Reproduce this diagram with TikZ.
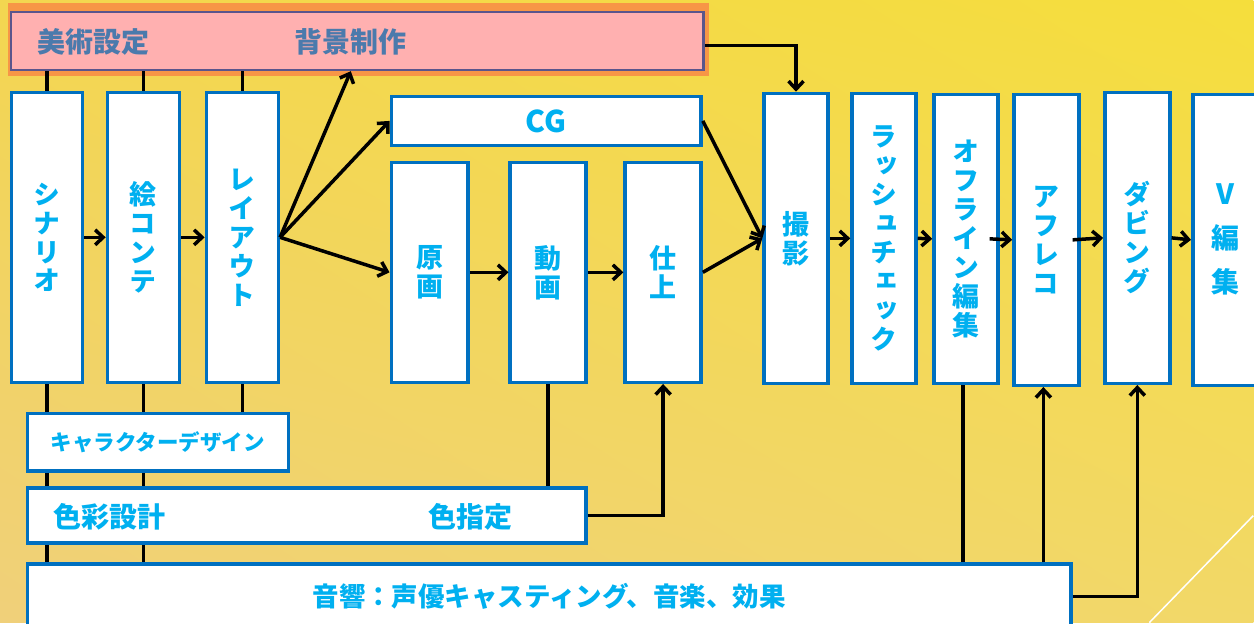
\documentclass[tikz,border=0pt]{standalone}
\usepackage{fontspec}
\setmainfont{Noto Sans CJK JP}
\newfontfamily\tate{Noto Sans CJK JP}[RawFeature=+vert]
\usepackage{tikz}
\usetikzlibrary{arrows.meta,shadings}

\definecolor{boxblue}{RGB}{0,112,192}
\definecolor{txtblue}{RGB}{0,176,240}
\definecolor{pinkfill}{RGB}{255,176,176}
\definecolor{pinkline}{RGB}{90,85,140}
\definecolor{pinktxt}{RGB}{75,122,172}
\definecolor{glow}{RGB}{247,150,70}
\definecolor{bgtl}{RGB}{243,214,80}
\definecolor{bgtr}{RGB}{245,222,60}
\definecolor{bgbl}{RGB}{240,208,122}
\definecolor{bgbr}{RGB}{242,216,104}

\begin{document}
\begin{tikzpicture}[x=1pt, y=-1pt,
  proc/.style={shape=rectangle, draw=boxblue, line width=3.5pt, fill=white, text=txtblue,
    inner sep=0pt, align=center, font=\tate\bfseries\fontsize{27}{29}\selectfont},
  wide/.style={proc, font=\bfseries\fontsize{28}{30}\selectfont},
  pinklabel/.style={text=pinktxt, font=\bfseries\fontsize{28}{30}\selectfont},
  bluelabel/.style={text=txtblue, font=\bfseries\fontsize{28}{30}\selectfont},
  flow/.style={line width=3.5pt, -{Straight Barb[length=8pt,width=15pt]}},
  tie/.style={line width=3.5pt}]

\shade[upper left=bgtl, upper right=bgtr, lower left=bgbl, lower right=bgbr] (0,0) rectangle (1254,623);
\draw[white, line width=1.5pt] (1150,623) -- (1254,516);
\useasboundingbox (0,0) rectangle (1254,623);

\fill[glow] (8,3) rectangle (709,76);
\node[shape=rectangle, draw=pinkline, line width=2.5pt, fill=pinkfill, minimum width=693, minimum height=58](bijutsu) at (357.5,41) {};
\node[pinklabel](settei) at (94,42) {美術設定};
\node[pinklabel](haikei) at (351,42) {背景制作};

\node[proc, minimum width=71, minimum height=290](scen) at (47,237.5) {シ\\ナ\\リ\\オ};
\node[proc, minimum width=72, minimum height=290](conte) at (143.5,237.5) {絵\\コ\\ン\\テ};
\node[proc, minimum width=72, minimum height=290](layout) at (242.5,237.5) {レ\\イ\\ア\\ウ\\ト};

\node[wide, minimum width=310, minimum height=49, font=\bfseries\fontsize{30}{32}\selectfont](cg) at (546.5,121) {CG};
\node[proc, minimum width=77, minimum height=220](genga) at (430,272.5) {原\\画};
\node[proc, minimum width=76, minimum height=220](douga) at (548.5,272.5) {動\\画};
\node[proc, minimum width=76, minimum height=220](shiage) at (663.5,272.5) {仕\\上};

\node[proc, minimum width=64, minimum height=290](satsuei) at (796.5,238.5) {撮\\影};
\node[proc, minimum width=64, minimum height=290](rush) at (884.5,238.5) {ラ\\ッ\\シ\\ュ\\チ\\ェ\\ッ\\ク};
\node[proc, minimum width=64, minimum height=289](offline) at (966.5,239) {オ\\フ\\ラ\\イ\\ン\\編\\集};
\node[proc, minimum width=65, minimum height=291](afreco) at (1047,240) {ア\\フ\\レ\\コ};
\node[proc, minimum width=65, minimum height=291](dubbing) at (1138,238) {ダ\\ビ\\ン\\グ};
\node[proc, minimum width=65, minimum height=291, font=\tate\bfseries\fontsize{28}{44}\selectfont](vedit) at (1226,240) {V\\編\\集};

\node[wide, minimum width=261, minimum height=58, font=\bfseries\fontsize{21.5}{24}\selectfont](chara) at (158,442.5) {キャラクターデザイン};
\node[proc, minimum width=559, minimum height=55](shikisai) at (307,516) {};
\node[bluelabel](sekkei) at (110,517) {色彩設計};
\node[bluelabel](shitei) at (471,517) {色指定};
\node[wide, minimum width=1044, minimum height=65, font=\bfseries\fontsize{26.5}{30}\selectfont](onkyo) at (549.5,597) {音響：声優キャスティング、音楽、効果};

\foreach \n in {scen,conte,layout}
  \draw[tie] (\n.north) -- (\n.north |- bijutsu.south);
\foreach \n in {scen,conte}{
  \draw[tie] (\n.south) -- (\n.south |- chara.north);
  \draw[tie] (\n.south |- chara.south) -- (\n.south |- shikisai.north);
  \draw[tie] (\n.south |- shikisai.south) -- (\n.south |- onkyo.north);
}
\draw[tie] (layout.south) -- (layout.south |- chara.north);
\draw[tie] (douga.south) -- (douga.south |- shikisai.north);
\draw[tie] ([xshift=-3pt]offline.south) -- ([xshift=-3pt]offline.south |- onkyo.north);

\path[flow] (scen.east) edge (conte.west);
\path[flow] (conte.east) edge (layout.west);

\path[flow] (layout.east) edge (haikei |- bijutsu.south);
\path[flow] (layout.east) edge (cg.west);
\path[flow] (layout.east) edge (genga.west);

\path[flow] (genga.east) edge (douga.west);
\path[flow] (douga.east) edge (shiage.west);

\path[flow] (cg.east) edge (satsuei.west);
\path[flow] (shiage.east) edge (satsuei.west);

\path[flow] (satsuei.east) edge (rush.west);
\path[flow] (rush.east) edge (offline.west);
\path[flow] ([xshift=-10pt]offline.east) edge (afreco.west);
\path[flow] ([xshift=-8pt]afreco.east) edge (dubbing.west);
\path[flow] (dubbing.east) edge (vedit.west);

\draw[flow] ([yshift=-4.5pt]bijutsu.east) -| (satsuei.north);
\draw[flow] (shikisai.east) -| (shiage.south);
\draw[flow] ([xshift=-3pt]afreco.south |- onkyo.north) -- ([xshift=-3pt]afreco.south);
\draw[flow] (onkyo.east) -| (dubbing.south);
\end{tikzpicture}
\end{document}
